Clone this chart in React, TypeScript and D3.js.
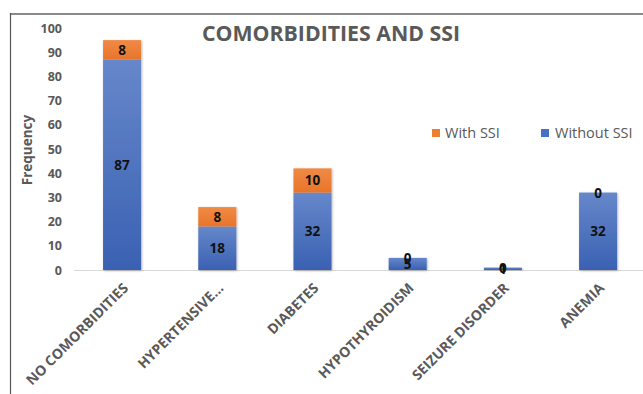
import React from "react";
import * as d3 from "d3";

const categories = ["NO COMORBIDITIES", "HYPERTENSIVE...", "DIABETES", "HYPOTHYROIDISM", "SEIZURE DISORDER", "ANEMIA"];
const withoutSSI = [87, 18, 32, 5, 1, 32];
const withSSI = [8, 8, 10, 0, 0, 0];
const yTicks = [0, 10, 20, 30, 40, 50, 60, 70, 80, 90, 100];
const seriesNames = ["With SSI", "Without SSI"];

const W = 643;
const H = 394;
const gray = "#595959";
const font = "'Open Sans', sans-serif";

export default function App() {
  const x = d3.scaleBand<string>().domain(categories).range([74.5, 645.7]).paddingInner(0.6).paddingOuter(0.3);
  const y = d3.scaleLinear().domain([0, 100]).range([270, 28]);
  const bw = x.bandwidth();

  return (
    <svg width={W} height={H} style={{ position: "absolute", left: 0, top: 0, background: "#fff" }}>
      <defs>
        <linearGradient id="gBlue" x1="0" y1="0" x2="0" y2="1">
          <stop offset="0" stopColor="#6687CA" />
          <stop offset="1" stopColor="#3A61B2" />
        </linearGradient>
        <linearGradient id="gOrange" x1="0" y1="0" x2="0" y2="1">
          <stop offset="0" stopColor="#F08A45" />
          <stop offset="1" stopColor="#E8752A" />
        </linearGradient>
        <filter id="shadow" x="-20%" y="-20%" width="140%" height="140%">
          <feDropShadow dx="0.8" dy="0.8" stdDeviation="0.8" floodColor="#000" floodOpacity="0.3" />
        </filter>
      </defs>
      <rect x={0} y={0} width={W} height={H} fill="#fff" />
      {/* frame */}
      <line x1={10} y1={14} x2={W} y2={14} stroke="#8a8a8a" strokeWidth={2} />
      <line x1={10.5} y1={13} x2={10.5} y2={H} stroke="#555" strokeWidth={1.2} />

      {/* title */}
      <text x={331} y={40.5} textAnchor="middle" fontFamily={font} fontWeight="bold" fontSize={21} fill={gray} textLength={258} lengthAdjust="spacingAndGlyphs">
        COMORBIDITIES AND SSI
      </text>

      {/* y axis title */}
      <text transform="translate(32,150) rotate(-90)" textAnchor="middle" fontFamily={font} fontWeight="bold" fontSize={13.5} fill={gray}>
        Frequency
      </text>

      {/* y ticks */}
      {yTicks.map((t) => (
        <text key={t} x={62} y={y(t) + 4.5} textAnchor="end" fontFamily={font} fontWeight="bold" fontSize={12.5} fill={gray}>
          {t}
        </text>
      ))}

      {/* baseline */}
      <line x1={74} x2={W} y1={y(0) + 0.5} y2={y(0) + 0.5} stroke="#d9d9d9" strokeWidth={1.2} />

      {/* bars */}
      {categories.map((c, i) => {
        const x0 = x(c)!;
        const a = withoutSSI[i];
        const b = withSSI[i];
        return (
          <g key={c} filter="url(#shadow)">
            <rect x={x0} y={y(a)} width={bw} height={y(0) - y(a)} fill="url(#gBlue)" />
            {b > 0 && <rect x={x0} y={y(a + b)} width={bw} height={y(a) - y(a + b)} fill="url(#gOrange)" />}
          </g>
        );
      })}

      {/* data labels */}
      {categories.map((c, i) => {
        const cx = x(c)! + bw / 2;
        const a = withoutSSI[i];
        const b = withSSI[i];
        return (
          <g key={c + "l"} fontFamily={font} fontWeight="bold" fontSize={13.5} fill="#111" textAnchor="middle">
            <text x={cx} y={y(a / 2) + 5}>{a}</text>
            <text x={cx} y={y(a + b / 2) + 5}>{b}</text>
          </g>
        );
      })}

      {/* x labels */}
      {categories.map((c) => {
        const cx = x(c)! + bw / 2;
        return (
          <text key={c + "x"} transform={`translate(${cx + 7},${289}) rotate(-45)`} textAnchor="end" fontFamily={font} fontWeight="bold" fontSize={14} fill={gray}>
            {c}
          </text>
        );
      })}

      {/* legend */}
      <rect x={432} y={129} width={8} height={8} fill="#ED7D31" />
      <text x={445} y={137.5} fontFamily={font} fontSize={14.5} fill={gray}>{seriesNames[0]}</text>
      <rect x={541} y={129} width={8} height={8} fill="#4472C4" />
      <text x={555} y={137.5} fontFamily={font} fontSize={14.5} fill={gray}>{seriesNames[1]}</text>
    </svg>
  );
}
